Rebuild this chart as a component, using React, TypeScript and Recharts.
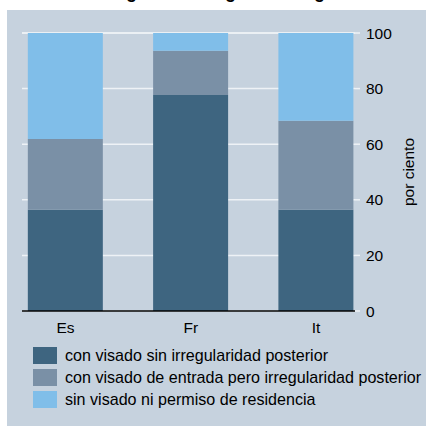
import React from 'react';
import { BarChart, Bar, XAxis, YAxis, CartesianGrid, Label } from 'recharts';

// categories on the x axis
const categories = ['Es', 'Fr', 'It'];

// stacked shares, per cent
const conVisado = [36.4, 77.7, 36.4];
const visadoIrregular = [25.5, 15.9, 32.0];
const sinVisado = [38.1, 6.4, 31.6];

const seriesNames = [
  'con visado sin irregularidad posterior',
  'con visado de entrada pero irregularidad posterior',
  'sin visado ni permiso de residencia',
];
const seriesColors = ['#3e6580', '#7a90a6', '#80bee9'];

const yTicks = [0, 20, 40, 60, 80, 100];

const data = categories.map((name, i) => ({
  idx: i,
  name,
  a: conVisado[i],
  b: visadoIrregular[i],
  c: sinVisado[i],
}));

const font = '"Liberation Sans", Arial, sans-serif';

const App: React.FC = () => {
  return (
    <div
      style={{
        position: 'fixed',
        left: 0,
        top: 0,
        width: 426,
        height: 426,
        background: '#ffffff',
        overflow: 'hidden',
        fontFamily: font,
      }}
    >
      <div
        style={{
          position: 'absolute',
          left: 0,
          top: -17,
          fontSize: 18,
          lineHeight: '18px',
          fontWeight: 'bold',
          whiteSpace: 'nowrap',
          color: '#000',
        }}
      >
        Gráfico 2: Inmigrantes irregulares según documentos de entrada por país
      </div>
      <div
        style={{
          position: 'absolute',
          left: 7,
          top: 10,
          width: 419,
          height: 416,
          background: '#c6d2de',
        }}
      >
        <BarChart
          width={419}
          height={331}
          data={data}
          margin={{ top: 23, right: 11, bottom: 0, left: 15 }}
        >
          <CartesianGrid vertical={false} stroke="#eef2f6" strokeWidth={1.5} />
          <XAxis
            dataKey="idx"
            type="number"
            domain={[-0.347, 2.311]}
            allowDataOverflow
            ticks={[0, 1, 2]}
            tickFormatter={(v: number) => categories[v] ?? ''}
            height={30}
            tickLine={false}
            tickSize={0}
            tickMargin={11}
            axisLine={{ stroke: '#000', strokeWidth: 1.5 }}
            tick={{ fill: '#000', fontSize: 15.5, fontFamily: font }}
          />
          <YAxis
            orientation="right"
            width={60}
            domain={[0, 100]}
            ticks={yTicks}
            axisLine={false}
            tickLine={{ stroke: '#eef2f6', strokeWidth: 1.5 }}
            tickSize={5}
            tickMargin={6}
            tick={{ fill: '#000', fontSize: 15.5, fontFamily: font, textAnchor: 'start' }}
          >
            <Label
              value="por ciento"
              angle={-90}
              position="center"
              dx={23}
              style={{ fill: '#000', fontSize: 15.5, fontFamily: font }}
            />
          </YAxis>
          <Bar dataKey="a" stackId="s" barSize={75} fill={seriesColors[0]} isAnimationActive={false} />
          <Bar dataKey="b" stackId="s" barSize={75} fill={seriesColors[1]} isAnimationActive={false} />
          <Bar dataKey="c" stackId="s" barSize={75} fill={seriesColors[2]} isAnimationActive={false} />
        </BarChart>
        <div style={{ position: 'absolute', left: 26, top: 334.5 }}>
          {seriesNames.map((n, i) => (
            <div key={n} style={{ display: 'flex', alignItems: 'center', height: 22 }}>
              <span
                style={{
                  display: 'inline-block',
                  width: 24,
                  height: 17,
                  background: seriesColors[i],
                  marginRight: 8,
                }}
              />
              <span style={{ fontSize: 16.1, color: '#000', whiteSpace: 'nowrap' }}>{n}</span>
            </div>
          ))}
        </div>
      </div>
    </div>
  );
};

export default App;
